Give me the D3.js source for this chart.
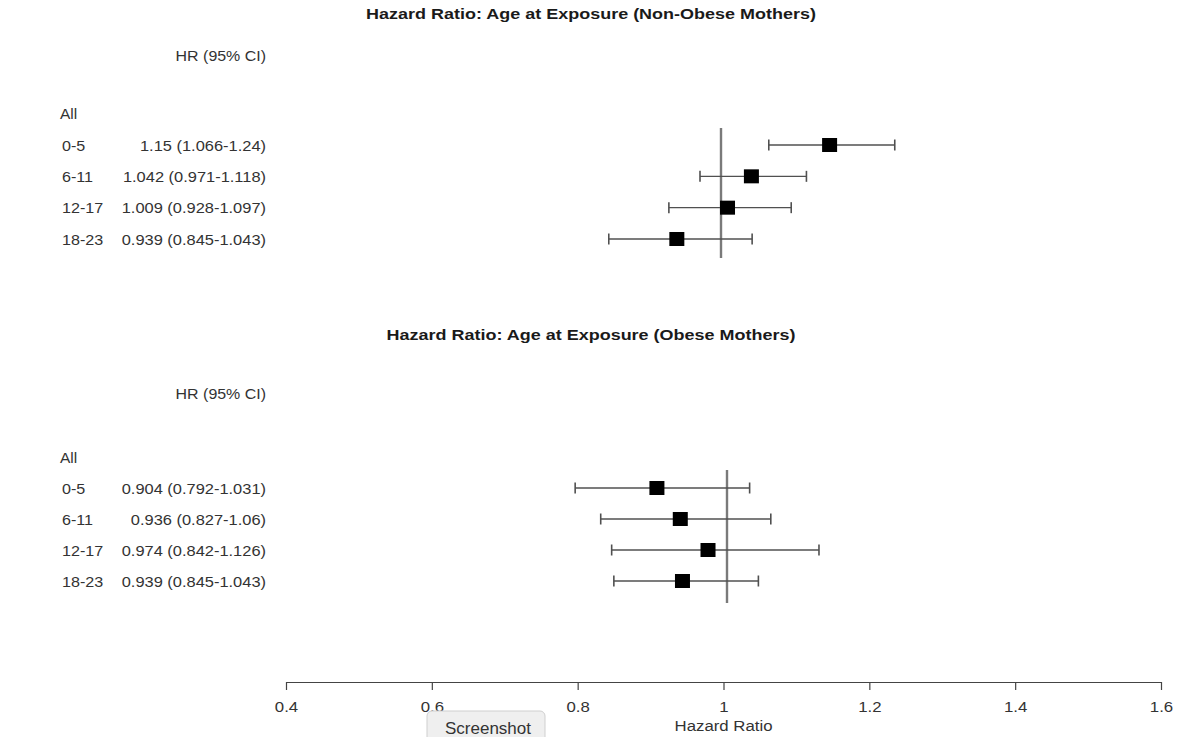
<!DOCTYPE html>
<html>
<head>
<meta charset="utf-8">
<script src="https://cdn.jsdelivr.net/npm/d3@7"></script>
<style>
  html, body { margin: 0; padding: 0; background: #fff; }
  svg { display: block; }
</style>
</head>
<body>
<svg id="chart" width="1186" height="737"></svg>
<script>
// ---- data ----
const ageGroups = ["0-5", "6-11", "12-17", "18-23"];
const nonObeseHR = [1.15, 1.042, 1.009, 0.939];
const nonObeseLo = [1.066, 0.971, 0.928, 0.845];
const nonObeseHi = [1.24, 1.118, 1.097, 1.043];
const obeseHR = [0.904, 0.936, 0.974, 0.939];
const obeseLo = [0.792, 0.827, 0.842, 0.845];
const obeseHi = [1.031, 1.06, 1.126, 1.043];
const axisTicks = [0.4, 0.6, 0.8, 1, 1.2, 1.4, 1.6];
const titles = ["Hazard Ratio: Age at Exposure (Non-Obese Mothers)",
                "Hazard Ratio: Age at Exposure (Obese Mothers)"];

const svg = d3.select("#chart");
const FONT = "'Liberation Sans', Arial, Helvetica, sans-serif";

const panels = [
  { title: titles[0], hr: nonObeseHR, lo: nonObeseLo, hi: nonObeseHi,
    titleY: 19, headY: 61, rowTop: 145, rowBottom: 239, refTop: 128, refBottom: 258,
    xRange: [286.6, 1155.4] },
  { title: titles[1], hr: obeseHR, lo: obeseLo, hi: obeseHi,
    titleY: 340, headY: 399, rowTop: 488, rowBottom: 581, refTop: 470, refBottom: 603,
    xRange: [289, 1165] }
];

function stretchedText(g, x, y, txt, opts) {
  return g.append("text")
    .attr("transform", `translate(${x},${y}) scale(${opts.sx || 1},1)`)
    .attr("text-anchor", opts.anchor || "start")
    .attr("font-family", FONT)
    .attr("font-size", opts.size)
    .attr("font-weight", opts.weight || "normal")
    .attr("fill", opts.fill || "#333")
    .text(txt);
}

panels.forEach(p => {
  const g = svg.append("g");
  const x = d3.scaleLinear().domain([0.4, 1.6]).range(p.xRange);
  const y = d3.scalePoint().domain(ageGroups).range([p.rowTop, p.rowBottom]);
  const step = y.step();

  // title
  stretchedText(g, 591, p.titleY, p.title, { size: 14.5, weight: "bold", anchor: "middle", sx: 1.24, fill: "#1a1a1a" });

  // header
  stretchedText(g, 266, p.headY, "HR (95% CI)", { size: 15.5, anchor: "end", sx: 1.03, fill: "#333" });

  // "All"
  stretchedText(g, 60, p.rowTop - step + 5.5, "All", { size: 15.5, fill: "#333" });

  // rows text
  ageGroups.forEach((a, i) => {
    stretchedText(g, 62, y(a) + 5.5, a, { size: 15.5, sx: 1.04, fill: "#333" });
    stretchedText(g, 266, y(a) + 5.5, `${p.hr[i]} (${p.lo[i]}-${p.hi[i]})`, { size: 15.5, anchor: "end", sx: 1.06, fill: "#333" });
  });

  // reference line at 1
  g.append("line")
    .attr("x1", x(1)).attr("x2", x(1))
    .attr("y1", p.refTop).attr("y2", p.refBottom)
    .attr("stroke", "#7a7a7a").attr("stroke-width", 2.4);

  const rows = ageGroups.map((a, i) => ({ a, hr: p.hr[i], lo: p.lo[i], hi: p.hi[i] }));

  const rg = g.selectAll("g.row").data(rows).join("g").attr("class", "row");
  rg.append("line")
    .attr("x1", d => x(d.lo)).attr("x2", d => x(d.hi))
    .attr("y1", d => y(d.a)).attr("y2", d => y(d.a))
    .attr("stroke", "#505050").attr("stroke-width", 1.4);
  rg.append("line")
    .attr("x1", d => x(d.lo)).attr("x2", d => x(d.lo))
    .attr("y1", d => y(d.a) - 5.5).attr("y2", d => y(d.a) + 5.5)
    .attr("stroke", "#505050").attr("stroke-width", 1.6);
  rg.append("line")
    .attr("x1", d => x(d.hi)).attr("x2", d => x(d.hi))
    .attr("y1", d => y(d.a) - 5.5).attr("y2", d => y(d.a) + 5.5)
    .attr("stroke", "#505050").attr("stroke-width", 1.6);
  rg.append("rect")
    .attr("x", d => x(d.hr) - 7.5).attr("y", d => y(d.a) - 7)
    .attr("width", 15).attr("height", 14)
    .attr("fill", "#000");
});

// ---- bottom axis ----
const xAxisScale = d3.scaleLinear().domain([0.4, 1.6]).range([286, 1161]);
const axisG = svg.append("g").attr("transform", "translate(0,682)");
const axis = d3.axisBottom(xAxisScale).tickValues(axisTicks).tickSize(8).tickSizeOuter(0)
  .tickFormat(d3.format("~g"));
axisG.call(axis);
axisG.select(".domain").attr("stroke", "#444").attr("stroke-width", 1.2);
axisG.selectAll(".tick line").attr("stroke", "#444").attr("stroke-width", 1.2);
axisG.selectAll(".tick text").remove();
axisG.selectAll(".tick").each(function(d) {
  d3.select(this).append("text")
    .attr("transform", "translate(0,30) scale(1.12,1)")
    .attr("text-anchor", "middle")
    .attr("font-family", FONT)
    .attr("font-size", 15)
    .attr("fill", "#333")
    .text(d3.format("~g")(d));
});
svg.append("text")
  .attr("transform", `translate(${xAxisScale(1)},731) scale(1.12,1)`)
  .attr("text-anchor", "middle")
  .attr("font-family", FONT)
  .attr("font-size", 15)
  .attr("fill", "#333")
  .text("Hazard Ratio");

// ---- screenshot button overlay ----
svg.append("rect")
  .attr("x", 427).attr("y", 711).attr("width", 118).attr("height", 34)
  .attr("rx", 5).attr("fill", "#efefef").attr("stroke", "#cfcfcf").attr("stroke-width", 1);
svg.append("text")
  .attr("x", 488).attr("y", 734)
  .attr("text-anchor", "middle")
  .attr("font-family", FONT)
  .attr("font-size", 17)
  .attr("fill", "#333")
  .text("Screenshot");
</script>
</body>
</html>
